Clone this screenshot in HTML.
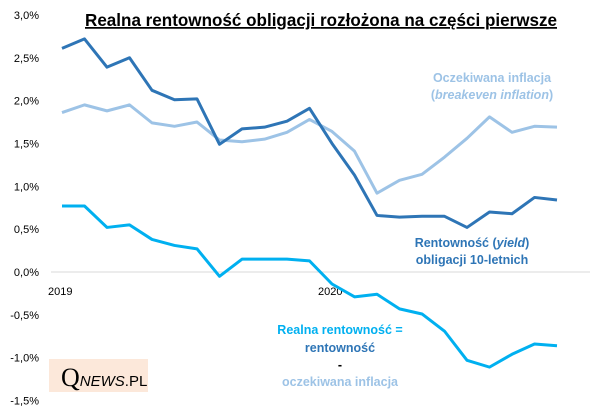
<!DOCTYPE html>
<html><head><meta charset="utf-8"><style>
body{margin:0;background:#fff;}
svg{display:block;font-family:"Liberation Sans",sans-serif;}
</style></head><body>
<svg id="c" width="605" height="417">
<text x="85" y="26" textLength="472" lengthAdjust="spacingAndGlyphs" font-size="17.5" font-weight="bold" text-decoration="underline" fill="#000">Realna rentowność obligacji rozłożona na części pierwsze</text>
<line x1="51" y1="272" x2="590" y2="272" stroke="#d9d9d9" stroke-width="1"/>
<g id="yt"></g><g id="xt"></g><g id="series"></g>
<text x="492" y="82" text-anchor="middle" font-size="12.5" font-weight="bold" fill="#9dc3e6">Oczekiwana inflacja</text>
<text x="492" y="99" text-anchor="middle" font-size="12.5" font-weight="bold" fill="#9dc3e6">(<tspan font-style="italic">breakeven inflation</tspan>)</text>
<text x="472" y="247" text-anchor="middle" font-size="12.5" font-weight="bold" fill="#2e75b6">Rentowność (<tspan font-style="italic">yield</tspan>)</text>
<text x="472" y="264" text-anchor="middle" font-size="12.5" font-weight="bold" fill="#2e75b6">obligacji 10-letnich</text>
<text x="340" y="334" text-anchor="middle" font-size="12.5" font-weight="bold" fill="#00b0f0">Realna rentowność =</text>
<text x="340" y="352" text-anchor="middle" font-size="12.5" font-weight="bold" fill="#2e75b6">rentowność</text>
<text x="340" y="369" text-anchor="middle" font-size="12.5" font-weight="bold" fill="#000">-</text>
<text x="340" y="386" text-anchor="middle" font-size="12.5" font-weight="bold" fill="#9dc3e6">oczekiwana inflacja</text>
<rect x="49" y="359" width="99" height="33" fill="#fce8da"/>
<text x="61" y="386" font-family="Liberation Serif,serif" font-size="26" fill="#000">Q<tspan font-family="Liberation Sans,sans-serif" font-size="15" font-style="italic">NEWS</tspan><tspan font-family="Liberation Sans,sans-serif" font-size="15">.PL</tspan></text>
</svg>
<script>
const yTicks=[3.0,2.5,2.0,1.5,1.0,0.5,0.0,-0.5,-1.0,-1.5];
const xLabels=["2019","2020"];
const xLabelIdx=[0,12];
const yieldVals=[2.61,2.72,2.39,2.50,2.12,2.01,2.02,1.49,1.67,1.69,1.76,1.91,1.50,1.13,0.66,0.64,0.65,0.65,0.52,0.70,0.68,0.87,0.84];
const inflVals=[1.86,1.95,1.88,1.95,1.74,1.70,1.75,1.54,1.52,1.55,1.63,1.78,1.64,1.41,0.92,1.07,1.14,1.34,1.56,1.81,1.63,1.70,1.69];
const realVals=[0.77,0.77,0.52,0.55,0.38,0.31,0.27,-0.05,0.15,0.15,0.15,0.13,-0.14,-0.29,-0.26,-0.43,-0.49,-0.69,-1.03,-1.11,-0.96,-0.84,-0.86];
const NS="http://www.w3.org/2000/svg";
const x=i=>62+i*22.5;
const y=v=>272-v*85.7;
const yt=document.getElementById('yt');
yTicks.forEach(t=>{
 const e=document.createElementNS(NS,'text');
 e.setAttribute('x',39);e.setAttribute('y',y(t)+4);e.setAttribute('text-anchor','end');e.setAttribute('font-size','11');
 e.textContent=t.toFixed(1).replace('.',',')+'%';
 
 
 yt.appendChild(e);
});
const xt=document.getElementById('xt');
xLabels.forEach((l,k)=>{
 const e=document.createElementNS(NS,'text');
 e.setAttribute('x',x(xLabelIdx[k])-14);e.setAttribute('y',295);e.setAttribute('font-size','11');
 e.textContent=l;
 
 
 xt.appendChild(e);
});
const sg=document.getElementById('series');
[[inflVals,'#9dc3e6','inflation-line'],[yieldVals,'#2e75b6','yield-line'],[realVals,'#00b0f0','real-yield-line']].forEach(([d,c,n])=>{
 const p=document.createElementNS(NS,'polyline');
 p.setAttribute('points',d.map((v,i)=>x(i)+','+y(v)).join(' '));
 p.setAttribute('fill','none');p.setAttribute('stroke',c);p.setAttribute('stroke-width','3');p.setAttribute('stroke-linejoin','round');
 
 
 sg.appendChild(p);
});
</script>
</body></html>
